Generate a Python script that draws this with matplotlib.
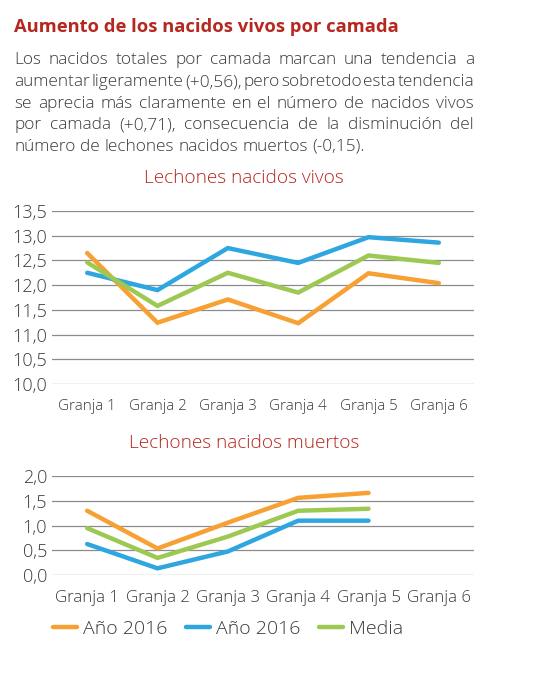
import numpy as np
import matplotlib
matplotlib.use('Agg')
import matplotlib.pyplot as plt

# datos
granjas = ['Granja 1', 'Granja 2', 'Granja 3', 'Granja 4', 'Granja 5', 'Granja 6']
series = ['Año 2016', 'Año 2016', 'Media']

vivos_a = [12.65, 11.24, 11.71, 11.23, 12.24, 12.04]
vivos_b = [12.25, 11.90, 12.75, 12.45, 12.97, 12.86]
vivos_media = [12.46, 11.58, 12.25, 11.85, 12.60, 12.45]

muertos_a = [1.30, 0.54, 1.06, 1.56, 1.66, np.nan]
muertos_b = [0.63, 0.14, 0.48, 1.10, 1.10, np.nan]
muertos_media = [0.95, 0.35, 0.78, 1.30, 1.34, np.nan]

vivos_ticks = [10.0, 10.5, 11.0, 11.5, 12.0, 12.5, 13.0, 13.5]
muertos_ticks = [0.0, 0.5, 1.0, 1.5, 2.0]

titulo = 'Aumento de los nacidos vivos por camada'
parrafo = [
    'Los nacidos totales por camada marcan una tendencia a',
    'aumentar ligeramente (+0,56), pero sobretodo esta tendencia',
    'se aprecia más claramente en el número de nacidos vivos',
    'por camada (+0,71), consecuencia de la disminución del',
    'número de lechones nacidos muertos (-0,15).',
]

colores = ['#F7A033', '#2EA7E0', '#9DC852']
rojo = '#B5271F'
gris_texto = '#3a3a3a'

plt.rcParams['font.family'] = ['Open Sans', 'DejaVu Sans']

W, H = 553, 682
fig = plt.figure(figsize=(W / 100, H / 100), dpi=100)

def px(x, y):
    return x / W, 1 - y / H

# titulo y parrafo justificado
fig.text(*px(14, 31.5), titulo, fontsize=13.2, fontweight='bold', color=rojo, va='baseline')

renderer = fig.canvas.get_renderer()
x0, x1 = 14, 474
tam = 12.4
for i, linea in enumerate(parrafo):
    y = 64.5 + 21.6 * i
    palabras = linea.split()
    textos = [fig.text(0, px(0, y)[1], p, fontsize=tam, fontweight='light',
                       color=gris_texto, va='baseline') for p in palabras]
    anchos = [t.get_window_extent(renderer).width for t in textos]
    if i < len(parrafo) - 1:
        hueco = (x1 - x0 - sum(anchos)) / (len(palabras) - 1)
    else:
        hueco = tam * 0.26 * 100 / 72
    xx = x0
    for t, w in zip(textos, anchos):
        t.set_x(xx / W)
        xx += w + hueco

def preparar(ax, ticks, xsize, xpad):
    ax.set_xlim(-0.5, 5.5)
    ax.set_ylim(ticks[0], ticks[-1])
    ax.set_yticks(ticks)
    ax.set_yticklabels([f'{t:.1f}'.replace('.', ',') for t in ticks])
    ax.set_xticks(range(len(granjas)))
    ax.set_xticklabels(granjas)
    for s in ax.spines.values():
        s.set_visible(False)
    ax.tick_params(axis='y', length=0, pad=3.5, labelsize=13, labelcolor=gris_texto)
    ax.tick_params(axis='x', length=0, pad=xpad, labelsize=xsize, labelcolor=gris_texto)
    for lab in ax.get_xticklabels() + ax.get_yticklabels():
        lab.set_fontweight('light')
    ax.grid(axis='y', color='#8c8c8c', linewidth=0.9)
    ax.set_axisbelow(True)

# grafico 1
ax1 = fig.add_axes([52 / W, 1 - 384 / H, 422 / W, 173 / H])
preparar(ax1, vivos_ticks, 10.9, 11)
for vals, c, lab in zip([vivos_a, vivos_b, vivos_media], colores, series):
    ax1.plot(range(len(granjas)), vals, color=c, lw=3.2, solid_capstyle='round',
             solid_joinstyle='miter', label=lab)
fig.text(243.5 / W, 1 - 178 / H, 'Lechones nacidos vivos', fontsize=13.7, color=rojo,
         fontweight='light', ha='center', va='center')

# grafico 2
ax2 = fig.add_axes([52 / W, 1 - 575.3 / H, 422 / W, 99.3 / H])
preparar(ax2, muertos_ticks, 12.2, 10.5)
lineas = []
for vals, c, lab in zip([muertos_a, muertos_b, muertos_media], colores, series):
    l, = ax2.plot(range(len(granjas)), vals, color=c, lw=3.2, solid_capstyle='round',
                  solid_joinstyle='miter', label=lab)
    lineas.append(l)
fig.text(244 / W, 1 - 443 / H, 'Lechones nacidos muertos', fontsize=13.7, color=rojo,
         fontweight='light', ha='center', va='center')

fig.legend(handles=lineas, labels=series, loc='center left',
           bbox_to_anchor=px(53, 629), ncol=3, frameon=False,
           prop={'size': 14, 'weight': 'light'}, handlelength=1.25, handletextpad=0.3,
           columnspacing=0.95, borderpad=0, borderaxespad=0, labelcolor=gris_texto)

fig.savefig('out.png', dpi=100)
